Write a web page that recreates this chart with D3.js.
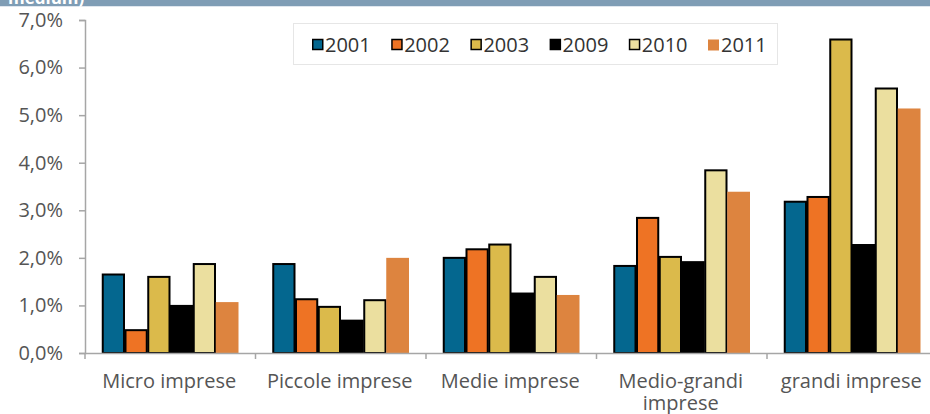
<!DOCTYPE html>
<html>
<head>
<meta charset="utf-8">
<script src="https://cdn.jsdelivr.net/npm/d3@7"></script>
<style>
  html, body { margin: 0; padding: 0; background: #fff; }
  svg { display: block; font-family: "Open Sans", "Noto Sans", sans-serif; }
</style>
</head>
<body>
<svg id="chart" width="930" height="414"></svg>
<script>
// Company size classes and the years compared
const categories = ["Micro imprese", "Piccole imprese", "Medie imprese", "Medio-grandi imprese", "grandi imprese"];
const years = ["2001", "2002", "2003", "2009", "2010", "2011"];

// Values (%) per year, one entry per size class
const v2001 = [1.65, 1.87, 2.00, 1.83, 3.18];
const v2002 = [0.48, 1.13, 2.18, 2.84, 3.28];
const v2003 = [1.60, 0.97, 2.28, 2.02, 6.59];
const v2009 = [0.99, 0.68, 1.25, 1.91, 2.27];
const v2010 = [1.87, 1.11, 1.60, 3.84, 5.56];
const v2011 = [1.07, 2.00, 1.22, 3.39, 5.14];

const yTicks = [0, 1, 2, 3, 4, 5, 6, 7];

const seriesValues = [v2001, v2002, v2003, v2009, v2010, v2011];
const colors = ["#04678f", "#ee7324", "#dbba4b", "#000000", "#ebdf9f", "#dd843f"];
const outlined = [true, true, true, true, true, false];

const svg = d3.select("#chart");

// Header band across the top
svg.append("rect").attr("x", 0).attr("y", 0).attr("width", 930).attr("height", 6).attr("fill", "#7f9db5");
svg.append("rect").attr("x", 0).attr("y", 6).attr("width", 930).attr("height", 1).attr("fill", "#dfe6ee");
svg.append("text").attr("x", 8).attr("y", 4)
  .attr("fill", "#fff").attr("font-weight", "bold").attr("font-size", 17)
  .text("medium)");

const margin = { left: 85, top: 20, bottom: 353 };
const bandStep = 170.5;
const x0 = d3.scaleBand().domain(categories)
  .range([margin.left, margin.left + bandStep * categories.length])
  .paddingInner(0).paddingOuter(0);
const x1 = d3.scaleBand().domain(years)
  .range([17, bandStep - 17]).padding(0);
const y = d3.scaleLinear().domain([0, 7]).range([margin.bottom, margin.top]);

// Y axis
const yAxis = d3.axisLeft(y).tickValues(yTicks).tickSize(6).tickPadding(16)
  .tickFormat(d => d.toFixed(1).replace(".", ",") + "%");
const gy = svg.append("g").attr("transform", `translate(${margin.left},0)`).call(yAxis);
gy.select(".domain").attr("stroke", "#a6a6a6").attr("stroke-width", 1.5);
gy.selectAll(".tick line").attr("stroke", "#a6a6a6").attr("stroke-width", 1.5);
gy.selectAll(".tick text").attr("fill", "#555").attr("font-size", 20).attr("font-family", "Open Sans");

// Bars
const groups = svg.append("g").selectAll("g").data(categories).join("g")
  .attr("transform", d => `translate(${x0(d)},0)`);
years.forEach((yr, si) => {
  groups.append("rect")
    .attr("x", x1(yr) + (outlined[si] ? 0.75 : 0))
    .attr("width", x1.bandwidth() - (outlined[si] ? 1.5 : 0))
    .attr("y", (d, ci) => y(seriesValues[si][ci]))
    .attr("height", (d, ci) => margin.bottom - y(seriesValues[si][ci]))
    .attr("fill", colors[si])
    .attr("stroke", outlined[si] ? "#000" : "none")
    .attr("stroke-width", outlined[si] ? 2 : 0);
});

// X axis
const xAxis = d3.axisBottom(x0).tickSize(0).tickPadding(0).tickFormat("");
const gx = svg.append("g").attr("transform", `translate(0,${margin.bottom})`).call(xAxis);
gx.select(".domain").attr("stroke", "#a6a6a6").attr("stroke-width", 1.5);
// boundary ticks between categories
const bounds = categories.map(c => x0(c)).concat([x0.range()[1]]);
gx.selectAll(".bound").data(bounds).join("line").attr("class", "bound")
  .attr("x1", d => d).attr("x2", d => d).attr("y1", 0).attr("y2", 6)
  .attr("stroke", "#a6a6a6").attr("stroke-width", 1.5);

// Category labels, wrapped where needed
const labelLines = { "Medio-grandi imprese": ["Medio-grandi", "imprese"] };
categories.forEach(c => {
  const lines = labelLines[c] || [c];
  const t = svg.append("text")
    .attr("x", x0(c) + x0.bandwidth() / 2 - 1)
    .attr("y", 388)
    .attr("text-anchor", "middle")
    .attr("fill", "#555").attr("font-size", 20);
  lines.forEach((ln, i) => {
    t.append("tspan").attr("x", x0(c) + x0.bandwidth() / 2 - 1)
      .attr("dy", i === 0 ? 0 : 22).text(ln);
  });
});

// Legend
const legend = svg.append("g");
legend.append("rect").attr("x", 293.5).attr("y", 23.5).attr("width", 484).attr("height", 41)
  .attr("fill", "#fff").attr("stroke", "#e6e6e6").attr("stroke-width", 1);
const legendX = d3.scalePoint().domain(years).range([312, 708]);
years.forEach((yr, i) => {
  const lx = legendX(yr);
  legend.append("rect")
    .attr("x", lx + (outlined[i] ? 0.75 : 0)).attr("y", 39.5)
    .attr("width", outlined[i] ? 10 : 11).attr("height", outlined[i] ? 10 : 11)
    .attr("fill", colors[i])
    .attr("stroke", outlined[i] ? "#000" : "none").attr("stroke-width", 1.5);
  legend.append("text").attr("x", lx + 13).attr("y", 52)
    .attr("fill", "#333").attr("font-size", 20).text(yr);
});
</script>
</body>
</html>
